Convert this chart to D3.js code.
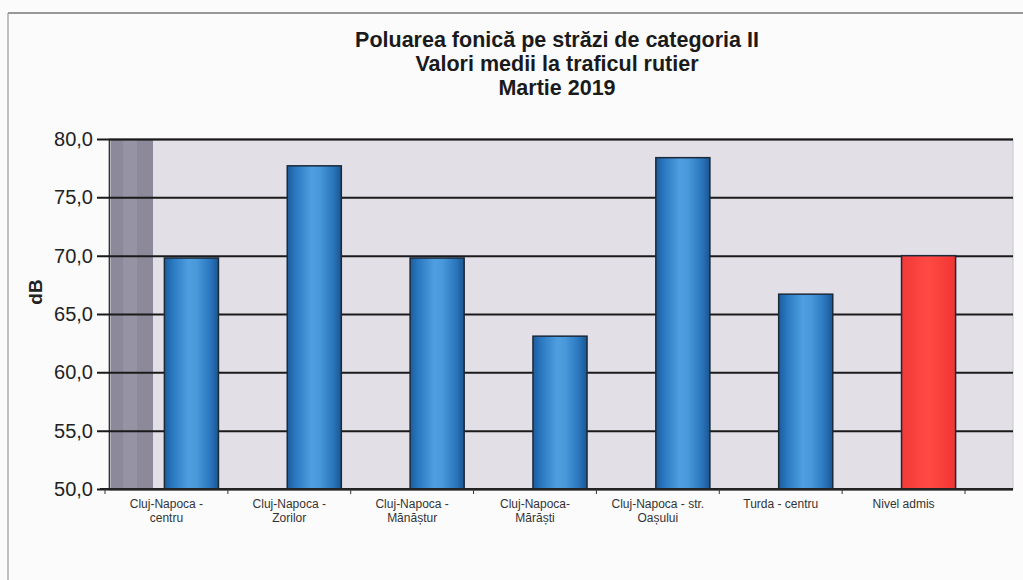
<!DOCTYPE html>
<html><head><meta charset="utf-8">
<script src="https://cdn.jsdelivr.net/npm/d3@7"></script>
<style>body{margin:0;background:#fbfbfb;}svg{display:block;font-family:Arial,"Liberation Sans",sans-serif;}</style>
</head><body><svg id="c" width="1023" height="580"></svg>
<script>
const categories = [["Cluj-Napoca -","centru"],["Cluj-Napoca -","Zorilor"],["Cluj-Napoca -","Mănăștur"],["Cluj-Napoca-","Mărăști"],["Cluj-Napoca - str.","Oașului"],["Turda - centru"],["Nivel admis"]];
const values = [69.8, 77.7, 69.8, 63.1, 78.4, 66.7, 70.0];
const barColors = ["blue","blue","blue","blue","blue","blue","red"];
const yTicks = [50,55,60,65,70,75,80];
const titleLines = ["Poluarea fonică pe străzi de categoria II","Valori medii la traficul rutier","Martie 2019"];
const yLabel = "dB";

const svg = d3.select("#c");
const plot = {l:109, r:1013, t:139, b:489};
const depth = 25;

// outer frame
svg.append("line").attr("x1",8).attr("x2",1023).attr("y1",13).attr("y2",13).attr("stroke","#777").attr("stroke-width",1.5);
svg.append("line").attr("x1",8).attr("x2",8).attr("y1",13).attr("y2",580).attr("stroke","#999").attr("stroke-width",1.2);

const defs = svg.append("defs");
const gb = defs.append("linearGradient").attr("id","gBlue").attr("x1","0").attr("x2","1").attr("y1","0").attr("y2","0");
[[0,"#1d5c9c"],[0.15,"#2a78c0"],[0.45,"#4f9fe0"],[0.6,"#4898da"],[0.85,"#2a76bd"],[1,"#1a5690"]].forEach(s=>gb.append("stop").attr("offset",s[0]).attr("stop-color",s[1]));
const gr = defs.append("linearGradient").attr("id","gRed").attr("x1","0").attr("x2","1");
[[0,"#f23a38"],[0.5,"#ff4a44"],[1,"#f03532"]].forEach(s=>gr.append("stop").attr("offset",s[0]).attr("stop-color",s[1]));

const y = d3.scaleLinear().domain([50,80]).range([plot.b, plot.t]);
const xFront = d3.scaleBand().domain(d3.range(categories.length)).range([105,965]).paddingInner(0.56).paddingOuter(0.28);
const xBar = d3.scaleBand().domain(d3.range(categories.length)).range([105+depth,965+depth]).paddingInner(0.56).paddingOuter(0.28);

// back wall
svg.append("rect").attr("x",plot.l).attr("y",plot.t).attr("width",plot.r-plot.l).attr("height",plot.b-plot.t).attr("fill","#e2dfe7").attr("stroke","#c8c4cc");
// left side wall
svg.append("rect").attr("x",plot.l+2).attr("y",plot.t).attr("width",42).attr("height",plot.b-plot.t).attr("fill","#8c8a9a");
svg.append("rect").attr("x",plot.l+14).attr("y",plot.t).attr("width",14).attr("height",plot.b-plot.t).attr("fill","#9a97a6").attr("opacity",0.7);

// y axis with gridlines
const yAxis = d3.axisLeft(y).tickValues(yTicks).tickFormat(d=>d3.format(".1f")(d).replace(".",",")).tickSize(-(plot.r-plot.l)).tickPadding(16);
const ga = svg.append("g").attr("transform",`translate(${plot.l},0)`).call(yAxis);
ga.select(".domain").attr("stroke","#333").attr("stroke-width",1.5);
ga.selectAll(".tick line").attr("stroke","#1a1a1a").attr("stroke-width",2).attr("x1",-12);
ga.selectAll(".tick text").attr("font-size",20).attr("fill","#222");

// bars
svg.append("g").selectAll("rect").data(values).join("rect")
  .attr("x",(d,i)=>xBar(i)).attr("width",xBar.bandwidth())
  .attr("y",d=>y(d)).attr("height",d=>y(50)-y(d))
  .attr("fill",(d,i)=>barColors[i]==="red"?"url(#gRed)":"url(#gBlue)")
  .attr("stroke","#1b2a3a").attr("stroke-width",1.5);

// x axis floor line and ticks
svg.append("line").attr("x1",100).attr("x2",plot.r).attr("y1",plot.b).attr("y2",plot.b).attr("stroke","#222").attr("stroke-width",2);
const bounds = d3.range(categories.length+1).map(i=>105+i*xFront.step());
svg.append("g").selectAll("line").data(bounds).join("line")
  .attr("x1",d=>d).attr("x2",d=>d).attr("y1",plot.b).attr("y2",plot.b+5).attr("stroke","#333").attr("stroke-width",1);

// x labels
const lab = svg.append("g").selectAll("text").data(categories).join("text")
  .attr("x",(d,i)=>xFront(i)+xFront.bandwidth()/2).attr("y",508)
  .attr("text-anchor","middle").attr("font-size",12).attr("fill","#333");
lab.each(function(d){
  const t=d3.select(this);
  d.forEach((s,j)=>t.append("tspan").attr("x",t.attr("x")).attr("dy",j?13.5:0).text(s));
});

// y label
svg.append("text").attr("transform","translate(42,292) rotate(-90)").attr("text-anchor","middle")
  .attr("font-size",19).attr("font-weight","bold").attr("fill","#222").text(yLabel);

// title
svg.append("g").selectAll("text").data(titleLines).join("text")
  .attr("x",557).attr("y",(d,i)=>47+i*24).attr("text-anchor","middle")
  .attr("font-size",21.5).attr("font-weight","bold").attr("fill","#1a1a1a").text(d=>d);
</script></body></html>
